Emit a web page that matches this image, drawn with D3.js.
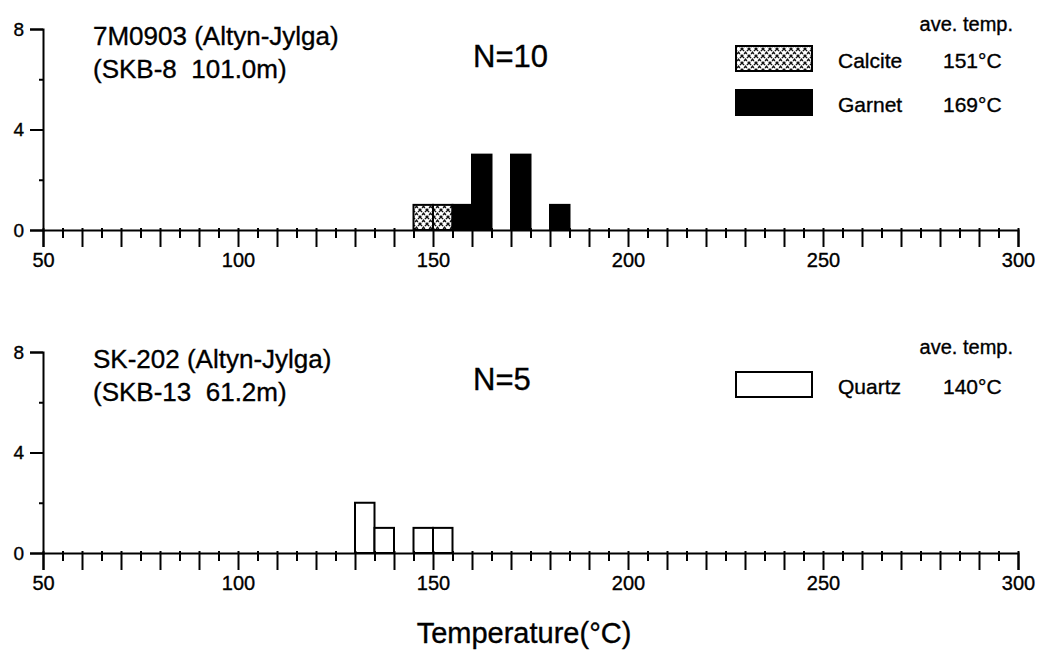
<!DOCTYPE html>
<meta charset="utf-8" />
<head>
    <title>Homogenization temperature histograms</title>
    <script src="https://d3js.org/d3.v7.min.js"></script>
</head>
<style>
  body { margin: 0; background: #fff; }
  svg { display: block; }
  text { font-family: "Liberation Sans", Arial, sans-serif; fill: #000; stroke: #000; stroke-width: 0.35px; }
  .axis path, .axis line { stroke: #000; stroke-width: 2px; }
</style>
<body>
<script>

// histogram data (bin start, 5 degree bins)
var binWidth = 5;
var calciteBins = [145, 150];
var calciteCounts = [1, 1];
var garnetBins = [155, 160, 170, 180];
var garnetCounts = [1, 3, 3, 1];
var quartzBins = [130, 135, 145, 150];
var quartzCounts = [2, 1, 1, 1];

// ticks
var xTickValues = [50, 55, 60, 65, 70, 75, 80, 85, 90, 95, 100, 105, 110, 115, 120, 125,
    130, 135, 140, 145, 150, 155, 160, 165, 170, 175, 180, 185, 190, 195, 200, 205, 210,
    215, 220, 225, 230, 235, 240, 245, 250, 255, 260, 265, 270, 275, 280, 285, 290, 295, 300];
var xTickLabels = [50, 100, 150, 200, 250, 300];
var yTickValues = [0, 2, 4, 6, 8];
var yTickLabels = [0, 4, 8];

// panel texts
var panelTitles = [
    ["7M0903 (Altyn-Jylga)", "(SKB-8  101.0m)"],
    ["SK-202 (Altyn-Jylga)", "(SKB-13  61.2m)"]
];
var panelN = ["N=10", "N=5"];
var topLegend = [
    {name: "Calcite", temp: "151\u00B0C", fill: "url(#calcite)"},
    {name: "Garnet", temp: "169\u00B0C", fill: "#000"}
];
var bottomLegend = [
    {name: "Quartz", temp: "140\u00B0C", fill: "#fff"}
];

var width = 1041, height = 661;

var svg = d3.select("body").append("svg")
    .attr("width", width)
    .attr("height", height);

// crosshatch pattern for calcite
var pat = svg.append("defs").append("pattern")
    .attr("id", "calcite")
    .attr("patternUnits", "userSpaceOnUse")
    .attr("width", 7)
    .attr("height", 7);
pat.append("rect").attr("width", 7).attr("height", 7).attr("fill", "#fff");
pat.append("path")
    .attr("d", "M0,0L7,7M7,0L0,7")
    .attr("stroke", "#111")
    .attr("stroke-width", 1.4)
    .attr("stroke-dasharray", "3,1");

var x = d3.scaleLinear().domain([50, 300]).range([43, 1018]);

function drawPanel(top, titles, nText, legend, series) {
    var y = d3.scaleLinear().domain([0, 8]).range([top + 201, top]);
    var g = svg.append("g");

    // bars
    series.forEach(function(s) {
        g.selectAll(null)
            .data(s.bins.map(function(b, i) { return {x0: b, n: s.counts[i]}; }))
            .enter().append("rect")
            .attr("x", function(d) { return x(d.x0); })
            .attr("width", function(d) { return x(d.x0 + binWidth) - x(d.x0); })
            .attr("y", function(d) { return y(d.n); })
            .attr("height", function(d) { return y(0) - y(d.n); })
            .attr("fill", s.fill)
            .attr("stroke", "#000")
            .attr("stroke-width", 2);
    });

    // x axis with alternating tick lengths
    var xa = g.append("g")
        .attr("class", "axis")
        .attr("transform", "translate(0," + y(0) + ")")
        .call(d3.axisBottom(x)
            .tickValues(xTickValues)
            .tickSizeOuter(0)
            .tickSize(17)
            .tickFormat(function(d) { return xTickLabels.indexOf(d) >= 0 ? d : ""; }));
    xa.selectAll(".tick line")
        .attr("y1", -2)
        .attr("y2", function(d) { return d % 10 === 0 ? 17 : 8; })
        .attr("stroke-width", 2.5);
    xa.selectAll(".tick text")
        .attr("y", 37)
        .attr("dy", 0)
        .style("font-size", "20px");

    // y axis
    var ya = g.append("g")
        .attr("class", "axis")
        .attr("transform", "translate(" + x(50) + ",0)")
        .call(d3.axisLeft(y)
            .tickValues(yTickValues)
            .tickSizeOuter(0)
            .tickSize(13)
            .tickFormat(function(d) { return yTickLabels.indexOf(d) >= 0 ? d : ""; }));
    ya.selectAll(".tick line")
        .attr("x2", function(d) { return d % 4 === 0 ? -13 : -4; })
        .attr("stroke-width", 1.2);
    ya.selectAll(".tick text")
        .attr("x", -19)
        .style("font-size", "19px");
    ya.select(".domain").attr("stroke-width", 2.5);

    // sample titles
    g.append("text").attr("x", 93).attr("y", top + 16)
        .style("font-size", "26px").text(titles[0]);
    g.append("text").attr("x", 93).attr("y", top + 49)
        .style("font-size", "26px").style("white-space", "pre").text(titles[1]);

    g.append("text").attr("x", 473).attr("y", top + 38)
        .style("font-size", "31px").text(nText);

    // legend
    g.append("text").attr("x", 1013).attr("y", top + 2)
        .attr("text-anchor", "end")
        .style("font-size", "20px").text("ave. temp.");

    legend.forEach(function(l, i) {
        var ly = top + 17 + i * 44 + (legend.length === 1 ? 3 : 0);
        g.append("rect")
            .attr("x", 736).attr("y", ly)
            .attr("width", 76).attr("height", 25)
            .attr("fill", l.fill)
            .attr("stroke", "#000")
            .attr("stroke-width", 2);
        g.append("text").attr("x", 838).attr("y", ly + 22)
            .style("font-size", "21px").text(l.name);
        g.append("text").attr("x", 943).attr("y", ly + 22)
            .style("font-size", "21px").text(l.temp);
    });
}

drawPanel(29, panelTitles[0], panelN[0], topLegend, [
    {bins: calciteBins, counts: calciteCounts, fill: "url(#calcite)"},
    {bins: garnetBins, counts: garnetCounts, fill: "#000"}
]);

drawPanel(352, panelTitles[1], panelN[1], bottomLegend, [
    {bins: quartzBins, counts: quartzCounts, fill: "#fff"}
]);

svg.append("text")
    .attr("x", 524)
    .attr("y", 643)
    .attr("text-anchor", "middle")
    .style("font-size", "29px")
    .text("Temperature(\u00B0C)");

</script>
</body>
